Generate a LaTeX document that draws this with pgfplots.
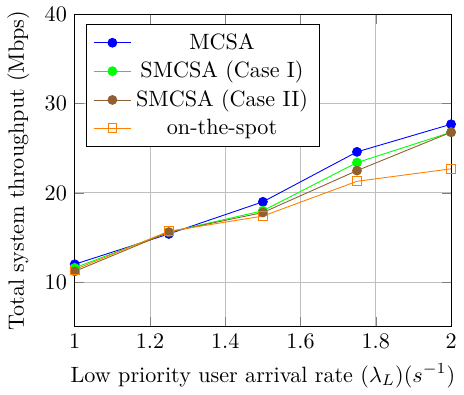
\documentclass[border=0pt]{standalone}
\usepackage{pgfplots}
\pgfplotsset{compat=1.18}
\begin{document}
\begin{tikzpicture}
\begin{axis}[
  scale only axis,
  width=170pt, height=141pt,
  xmin=1, xmax=2, ymin=5, ymax=40,
  xtick={1,1.2,1.4,1.6,1.8,2},
  ytick={10,20,30,40},
  grid=major,
  xlabel={Low priority user arrival rate $(\lambda_L) (s^{-1})$},
  ylabel={Total system throughput (Mbps)},
  legend pos=north west,
  legend cell align=center,
]
\addplot[blue, mark=*] coordinates {(1,12.0) (1.25,15.4) (1.5,19.0) (1.75,24.6) (2,27.7)};
\addlegendentry{MCSA}
\addplot[green, mark=*] coordinates {(1,11.6) (1.25,15.6) (1.5,18.0) (1.75,23.4) (2,26.8)};
\addlegendentry{SMCSA (Case I)}
\addplot[brown!75!black, mark=otimes*] coordinates {(1,11.2) (1.25,15.6) (1.5,17.8) (1.75,22.5) (2,26.8)};
\addlegendentry{SMCSA (Case II)}
\addplot[orange, mark=square] coordinates {(1,11.4) (1.25,15.7) (1.5,17.4) (1.75,21.3) (2,22.7)};
\addlegendentry{on-the-spot}
\end{axis}
\end{tikzpicture}
\end{document}
